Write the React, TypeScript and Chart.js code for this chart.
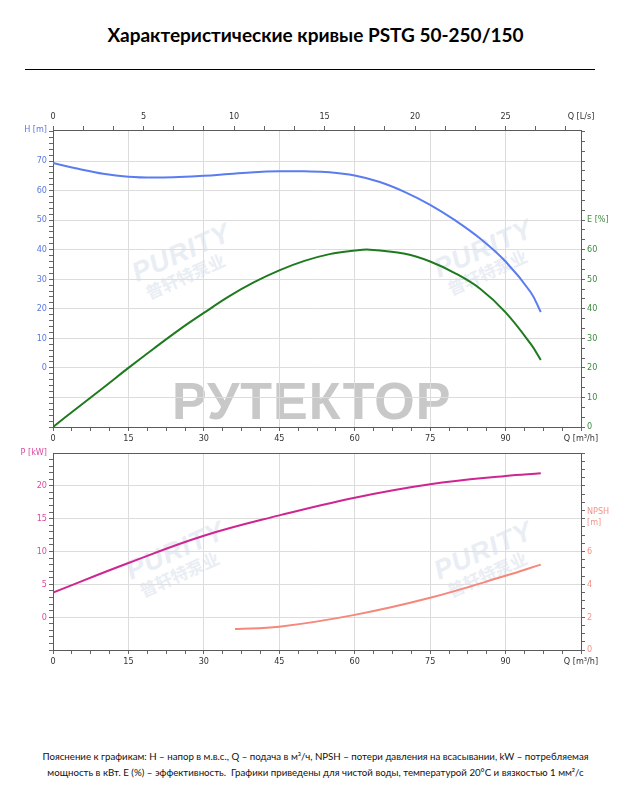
import React, { useEffect, useRef } from "react";
import { Chart, registerables } from "chart.js";

Chart.register(...registerables);

// ---------------- data (Q in m³/h) ----------------
const headFlow = [0, 5, 10, 15, 20, 25, 30, 35, 40, 45, 50, 55, 60, 65, 70, 75, 80, 85, 90, 95, 97];
const headValues = [69.3, 67.4, 65.7, 64.7, 64.4, 64.6, 65.0, 65.6, 66.2, 66.5, 66.5, 66.2, 65.1, 62.9, 59.5, 55.2, 49.9, 43.7, 36.0, 25.6, 18.9];

const effFlow = [0, 5, 10, 15, 20, 25, 30, 35, 40, 45, 50, 55, 60, 63, 70, 75, 80, 85, 90, 95, 97];
const effValues = [0, 6.7, 13.3, 20, 26.5, 32.8, 38.6, 44.2, 49, 53, 56.2, 58.5, 59.7, 60, 58.6, 56, 52, 46.7, 38.8, 28.1, 22.7];

const powerFlow = [0, 15, 30, 45, 60, 75, 90, 97];
const powerValues = [3.75, 8.25, 12.4, 15.5, 18.2, 20.25, 21.5, 21.9];

const npshFlow = [36.2, 45, 60, 75, 90, 97];
const npshValues = [1.28, 1.42, 2.14, 3.18, 4.52, 5.2];

// ---------------- tick labels ----------------
const qLabelsM3h = [0, 15, 30, 45, 60, 75, 90];
const qLabelsLs = [0, 5, 10, 15, 20, 25];
const hLabels = [0, 10, 20, 30, 40, 50, 60, 70];
const hGrid = [-10, 0, 10, 20, 30, 40, 50, 60, 70];
const eLabels = [0, 10, 20, 30, 40, 50, 60];
const pLabels = [0, 5, 10, 15, 20];
const npshLabels = [0, 2, 4, 6];

const Q_MAX = 105; // m³/h
const Q_MAX_LS = Q_MAX / 3.6;

// ---------------- styles ----------------
const AXIS = "#5a5a5a";
const GRID = "#dcdcdc";
const TICK = "#666666";
const TRANSPARENT = "rgba(0,0,0,0)";
const TICK_FONT = {
  family: "'Liberation Sans Narrow','DejaVu Sans Condensed','Liberation Sans',sans-serif",
  size: 9,
};
const C_H = "#5b7cf0";
const C_H_TXT = "#5a78e0";
const C_E = "#1f7a1f";
const C_E_TXT = "#3d8b3d";
const C_P = "#cf2590";
const C_P_TXT = "#dd4aa0";
const C_N = "#f5877b";
const C_N_TXT = "#f39488";

const near = (a: number, b: number) => Math.abs(a - b) < 1e-6;
function range(min: number, max: number, step: number) {
  const out: number[] = [];
  const n = Math.floor((max - min) / step + 1e-9);
  for (let i = 0; i <= n; i++) out.push(+(min + i * step).toFixed(6));
  return out;
}

type AxisSpec = {
  position: "left" | "right" | "top" | "bottom";
  min: number;
  max: number;
  minor: number[];
  labels: number[];
  grid: number[];
  title: string | string[];
  titleAt: number;
  titleTick: boolean;
  color: string;
  size: number;
  padding?: number;
};

function buildScale(s: AxisSpec) {
  const values = Array.from(new Set([...s.minor, +s.titleAt.toFixed(6)])).sort((a, b) => a - b);
  const horizontal = s.position === "top" || s.position === "bottom";
  return {
    type: "linear",
    position: s.position,
    min: s.min,
    max: s.max,
    bounds: "data",
    afterBuildTicks: (scale: any) => {
      scale.ticks = values.map((v) => ({ value: v }));
    },
    afterFit: (scale: any) => {
      if (horizontal) scale.height = s.size;
      else scale.width = s.size;
    },
    border: { display: true, color: AXIS, width: 1 },
    grid: {
      drawOnChartArea: true,
      drawTicks: true,
      tickLength: 4,
      lineWidth: 1,
      color: (ctx: any) =>
        ctx.tick && s.grid.some((g) => near(g, ctx.tick.value)) ? GRID : TRANSPARENT,
      tickColor: (ctx: any) =>
        ctx.tick && near(ctx.tick.value, s.titleAt) && !s.titleTick ? TRANSPARENT : TICK,
    },
    ticks: {
      autoSkip: false,
      maxRotation: 0,
      minRotation: 0,
      padding: s.padding ?? 2,
      color: s.color,
      font: TICK_FONT,
      callback: (v: number) =>
        near(v, s.titleAt) ? s.title : s.labels.some((l) => near(l, v)) ? String(v) : "",
    },
  };
}

const pts = (xs: number[], ys: number[]) => xs.map((x, i) => ({ x, y: ys[i] }));

const framePlugin = {
  id: "frameTop",
  afterDraw(chart: any) {
    const { ctx, chartArea: a } = chart;
    ctx.save();
    ctx.strokeStyle = AXIS;
    ctx.lineWidth = 1;
    const y = Math.round(a.top) + 0.5;
    ctx.beginPath();
    ctx.moveTo(a.left, y);
    ctx.lineTo(a.right, y);
    ctx.stroke();
    ctx.restore();
  },
};

function lineDs(label: string, data: any[], color: string, yAxisID: string) {
  return {
    label,
    data,
    borderColor: color,
    backgroundColor: color,
    borderWidth: 2,
    pointRadius: 0,
    fill: false,
    tension: 0.4,
    xAxisID: "x",
    yAxisID,
  };
}

const xBottom = (size: number) =>
  buildScale({
    position: "bottom",
    min: 0,
    max: Q_MAX,
    minor: range(0, Q_MAX, 3.75),
    labels: qLabelsM3h,
    grid: [15, 30, 45, 60, 75, 90],
    title: "Q [m³/h]",
    titleAt: Q_MAX,
    titleTick: true,
    color: "#333333",
    size,
  });

function Watermark({ left, top }: { left: number; top: number }) {
  return (
    <div
      style={{
        position: "absolute",
        left,
        top,
        transform: "rotate(-24deg)",
        transformOrigin: "left top",
        color: "#e9edf4",
        fontFamily: "'Liberation Sans', Arial, sans-serif",
        pointerEvents: "none",
        whiteSpace: "nowrap",
        lineHeight: 1,
      }}
    >
      <div style={{ fontSize: 27, fontWeight: 700, fontStyle: "italic", letterSpacing: 1 }}>PURITY</div>
      <div style={{ fontSize: 17, fontWeight: 700, fontFamily: "'Noto Sans CJK SC', sans-serif", marginLeft: 4 }}>
        普轩特泵业
      </div>
    </div>
  );
}

export default function App() {
  const topRef = useRef<HTMLCanvasElement | null>(null);
  const botRef = useRef<HTMLCanvasElement | null>(null);

  useEffect(() => {
    const top = new Chart(topRef.current as HTMLCanvasElement, {
      type: "line",
      data: {
        datasets: [
          lineDs("H", pts(headFlow, headValues), C_H, "yH") as any,
          lineDs("E", pts(effFlow, effValues), C_E, "yE") as any,
        ],
      },
      options: {
        responsive: false,
        maintainAspectRatio: false,
        animation: false,
        layout: { padding: 0 },
        plugins: { legend: { display: false }, tooltip: { enabled: false } },
        scales: {
          x: xBottom(23),
          x2: buildScale({
            position: "top",
            min: 0,
            max: Q_MAX_LS,
            minor: range(0, Q_MAX_LS, 5 / 3),
            labels: qLabelsLs,
            grid: [],
            title: "Q [L/s]",
            titleAt: Q_MAX_LS,
            titleTick: false,
            color: "#333333",
            size: 30,
            padding: 4,
          }),
          yH: buildScale({
            position: "left",
            min: -20,
            max: 80.5,
            minor: range(-20, 80, 2),
            labels: hLabels,
            grid: hGrid,
            title: "H [m]",
            titleAt: 80.5,
            titleTick: false,
            color: C_H_TXT,
            size: 53,
          }),
          yE: buildScale({
            position: "right",
            min: 0,
            max: 100.5,
            minor: range(0, 100, 10 / 3),
            labels: eLabels,
            grid: [],
            title: "E [%]",
            titleAt: 70,
            titleTick: true,
            color: C_E_TXT,
            size: 50,
          }),
        } as any,
      },
    });

    const bot = new Chart(botRef.current as HTMLCanvasElement, {
      type: "line",
      data: {
        datasets: [
          lineDs("P", pts(powerFlow, powerValues), C_P, "yP") as any,
          lineDs("NPSH", pts(npshFlow, npshValues), C_N, "yN") as any,
        ],
      },
      options: {
        responsive: false,
        maintainAspectRatio: false,
        animation: false,
        layout: { padding: { top: 10, left: 0, right: 0, bottom: 0 } },
        plugins: { legend: { display: false }, tooltip: { enabled: false } },
        scales: {
          x: xBottom(30),
          yP: buildScale({
            position: "left",
            min: -5,
            max: 25,
            minor: range(-5, 25, 1),
            labels: pLabels,
            grid: pLabels,
            title: "P [kW]",
            titleAt: 25,
            titleTick: false,
            color: C_P_TXT,
            size: 53,
          }),
          yN: buildScale({
            position: "right",
            min: 0,
            max: 12,
            minor: range(0, 12, 0.5),
            labels: npshLabels,
            grid: [],
            title: ["NPSH", "[m]"],
            titleAt: 8.1,
            titleTick: false,
            color: C_N_TXT,
            size: 50,
          }),
        } as any,
      },
      plugins: [framePlugin],
    });

    return () => {
      top.destroy();
      bot.destroy();
    };
  }, []);

  return (
    <div
      style={{
        position: "absolute",
        left: 0,
        top: 0,
        width: 631,
        height: 800,
        background: "#ffffff",
        overflow: "hidden",
      }}
    >
      <div
        style={{
          position: "absolute",
          left: 0,
          top: 23,
          width: 631,
          textAlign: "center",
          fontFamily: "Lato, 'Open Sans', sans-serif",
          fontWeight: 700,
          fontSize: 19,
          lineHeight: "24px",
          color: "#000",
        }}
      >
        Характеристические кривые PSTG 50-250/150
      </div>
      <div style={{ position: "absolute", left: 25, top: 69, width: 570, borderTop: "1px solid #000" }} />

      {/* watermarks (behind the charts) */}
      <Watermark left={128} top={262} />
      <Watermark left={430} top={258} />
      <Watermark left={122} top={560} />
      <Watermark left={430} top={560} />
      <div
        style={{
          position: "absolute",
          left: 172,
          top: 375,
          fontFamily: "'Liberation Sans', Arial, sans-serif",
          fontWeight: 700,
          fontSize: 52,
          lineHeight: 1,
          letterSpacing: 1,
          color: "#c8c8c8",
          pointerEvents: "none",
          whiteSpace: "nowrap",
        }}
      >
        РУТЕКТОР
      </div>

      <canvas
        ref={topRef}
        width={631}
        height={350}
        style={{ position: "absolute", left: 0, top: 100, width: 631, height: 350 }}
      />
      <canvas
        ref={botRef}
        width={631}
        height={237}
        style={{ position: "absolute", left: 0, top: 443, width: 631, height: 237 }}
      />

      <div
        style={{
          position: "absolute",
          left: 0,
          top: 748,
          width: 631,
          textAlign: "center",
          fontFamily: "Lato, 'Open Sans', sans-serif",
          fontSize: 9.7,
          lineHeight: "16px",
          color: "#111",
        }}
      >
        <div>
          Пояснение к графикам: H – напор в м.в.с., Q – подача в м³/ч, NPSH – потери давления на всасывании, kW – потребляемая
        </div>
        <div>
          мощность в кВт. E (%) – эффективность.&nbsp; Графики приведены для чистой воды, температурой 20°C и вязкостью 1 мм²/с
        </div>
      </div>
    </div>
  );
}
